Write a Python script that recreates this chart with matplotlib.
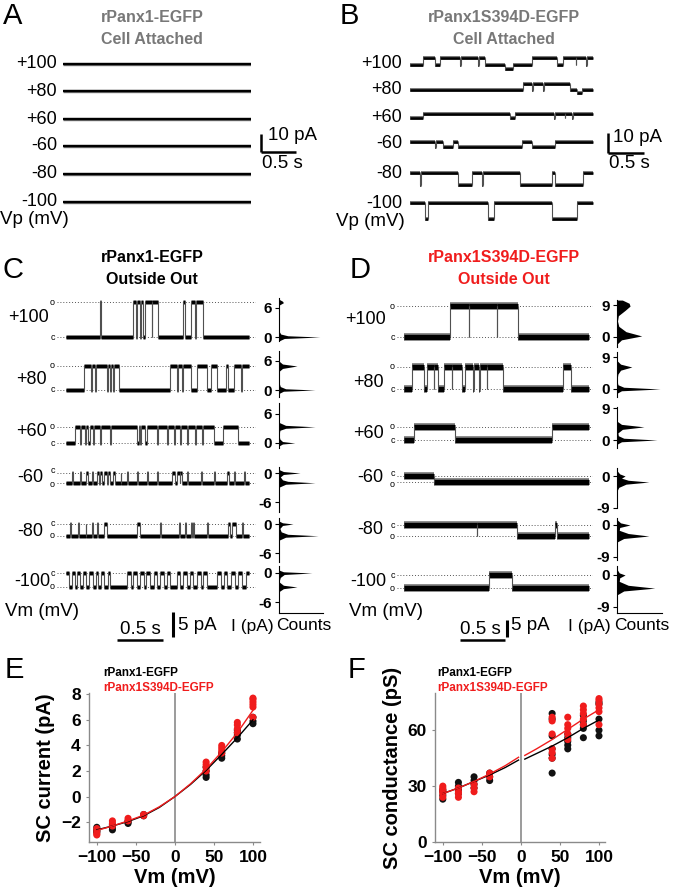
import matplotlib
matplotlib.use("Agg")
import matplotlib.pyplot as plt

plt.rcParams['font.family'] = ['Liberation Sans', 'DejaVu Sans']

# ---- DATA ----
volts = ['+100', '+80', '+60', '-60', '-80', '-100']

# A: cell attached, rPanx1-EGFP -> no openings, flat traces (pA)
a_level = [0, 0, 0, 0, 0, 0]
a_dur = 2.69

# B: cell attached, S394D. steps = (start time s, state)
b_p100 = [(0, 'c'), (0.18, 'o'), (0.35, 'c'), (0.42, 'o'), (0.70, 'c'), (0.71, 'o'), (0.95, 'c'),
          (0.96, 'o'), (1.04, 'c'), (1.32, 'L'), (1.43, 'c'), (1.69, 'o'), (2.04, 'c'), (2.13, 'o'),
          (2.30, 'c'), (2.31, 'o'), (2.45, 'c'), (2.46, 'o')]
b_p80 = [(0, 'c'), (1.57, 'o'), (1.70, 'c'), (1.71, 'o'), (1.85, 'c'), (1.86, 'o'), (2.22, 'c'),
         (2.32, 'L'), (2.39, 'c')]
b_p60 = [(0, 'c'), (0.18, 'o'), (1.39, 'c'), (1.46, 'o'), (2.0, 'c'), (2.01, 'o'), (2.15, 'c'),
         (2.16, 'o'), (2.25, 'c'), (2.26, 'o')]
b_m60 = [(0, 'c'), (0.35, 'o'), (0.36, 'c'), (0.46, 'o'), (0.60, 'c'), (0.67, 'o'), (1.56, 'c'),
         (1.69, 'o'), (2.01, 'c')]
b_m80 = [(0, 'c'), (0.14, 'o'), (0.15, 'c'), (0.67, 'o'), (0.86, 'c'), (1.0, 'o'), (1.01, 'c'),
         (1.53, 'o'), (1.97, 'c'), (2.01, 'o'), (2.40, 'c')]
b_m100 = [(0, 'c'), (0.21, 'o'), (0.25, 'c'), (1.08, 'o'), (1.17, 'c'), (1.97, 'o'), (2.32, 'c')]
b_steps = [b_p100, b_p80, b_p60, b_m60, b_m80, b_m100]
b_open = [3.7, 3.2, 2.1, -2.6, -6.3, -8.4]
b_low = [-2.1, -1.6, 0, 0, 0, 0]
b_dur = 2.54

# C: outside out, rPanx1-EGFP
c_p100 = [(0, 'c'), (0.37, 'o'), (0.38, 'c'), (0.73, 'o'), (0.76, 'c'), (0.765, 'o'), (0.80, 'c'),
          (0.81, 'o'), (0.83, 'c'), (0.86, 'o'), (0.93, 'c'), (0.935, 'o'), (1.0, 'c'), (1.27, 'o'),
          (1.285, 'c'), (1.35, 'o'), (1.40, 'c'), (1.41, 'o'), (1.49, 'c')]
c_p80 = [(0, 'c'), (0.19, 'o'), (0.27, 'c'), (0.28, 'o'), (0.31, 'c'), (0.32, 'o'), (0.44, 'c'),
         (0.45, 'o'), (0.48, 'c'), (0.49, 'o'), (0.51, 'c'), (0.52, 'o'), (0.57, 'c'), (1.13, 'o'),
         (1.20, 'c'), (1.21, 'o'), (1.26, 'c'), (1.27, 'o'), (1.35, 'c'), (1.42, 'o'), (1.53, 'c'),
         (1.57, 'o'), (1.64, 'c'), (1.73, 'o'), (1.76, 'c'), (1.82, 'o'), (1.90, 'c'), (1.91, 'o')]
c_p60 = [(0, 'c'), (0.1, 'o'), (0.15, 'c'), (0.16, 'o'), (0.2, 'c'), (0.21, 'o'), (0.24, 'c'),
         (0.26, 'o'), (0.29, 'c'), (0.30, 'o'), (0.37, 'c'), (0.38, 'o'), (0.48, 'c'), (0.49, 'o'),
         (0.77, 'c'), (0.785, 'o'), (0.80, 'c'), (0.81, 'o'), (0.86, 'c'), (0.88, 'o'), (0.99, 'c'),
         (1.0, 'o'), (1.09, 'c'), (1.10, 'o'), (1.17, 'c'), (1.18, 'o'), (1.24, 'c'), (1.25, 'o'),
         (1.31, 'c'), (1.32, 'o'), (1.40, 'c'), (1.41, 'o'), (1.47, 'c'), (1.48, 'o'), (1.60, 'c'),
         (1.70, 'o'), (1.86, 'c')]
c_m60 = [(0, 'o'), (0.06, 'c'), (0.07, 'o'), (0.15, 'c'), (0.165, 'o'), (0.22, 'c'), (0.235, 'o'),
         (0.28, 'c'), (0.29, 'o'), (0.33, 'c'), (0.36, 'o'), (0.37, 'c'), (0.39, 'o'), (0.41, 'c'),
         (0.44, 'o'), (0.45, 'c'), (0.48, 'o'), (0.51, 'c'), (0.53, 'o'), (0.59, 'c'), (0.60, 'o'),
         (0.66, 'c'), (0.675, 'o'), (0.77, 'c'), (0.78, 'o'), (0.88, 'c'), (0.89, 'o'), (0.99, 'c'),
         (1.0, 'o'), (1.15, 'c'), (1.18, 'o'), (1.20, 'c'), (1.23, 'o'), (1.24, 'c'), (1.26, 'o'),
         (1.31, 'c'), (1.32, 'o'), (1.46, 'c'), (1.47, 'o'), (1.60, 'c'), (1.61, 'o'), (1.75, 'c'),
         (1.765, 'o'), (1.82, 'c'), (1.83, 'o'), (1.93, 'c'), (1.94, 'o')]
c_m80 = [(0, 'o'), (0.04, 'c'), (0.05, 'o'), (0.13, 'c'), (0.14, 'o'), (0.21, 'c'), (0.22, 'o'),
         (0.28, 'c'), (0.29, 'o'), (0.33, 'c'), (0.34, 'o'), (0.41, 'c'), (0.44, 'o'), (0.77, 'c'),
         (0.80, 'o'), (1.02, 'c'), (1.03, 'o'), (1.22, 'c'), (1.23, 'o'), (1.29, 'c'), (1.30, 'o'),
         (1.35, 'c'), (1.36, 'o'), (1.38, 'c'), (1.39, 'o'), (1.53, 'c'), (1.54, 'o'), (1.76, 'c'),
         (1.78, 'o'), (1.80, 'c'), (1.84, 'o'), (1.91, 'c'), (1.92, 'o')]
c_m100 = [(0, 'c'), (0.03, 'o'), (0.06, 'c'), (0.09, 'o'), (0.12, 'c'), (0.15, 'o'), (0.18, 'c'),
          (0.22, 'o'), (0.25, 'c'), (0.29, 'o'), (0.32, 'c'), (0.35, 'o'), (0.38, 'c'), (0.41, 'o'),
          (0.45, 'c'), (0.47, 'o'), (0.66, 'c'), (0.70, 'o'), (0.73, 'c'), (0.77, 'o'), (0.80, 'c'),
          (0.84, 'o'), (0.87, 'c'), (0.91, 'o'), (0.95, 'c'), (0.99, 'o'), (1.02, 'c'), (1.06, 'o'),
          (1.09, 'c'), (1.13, 'o'), (1.20, 'c'), (1.24, 'o'), (1.27, 'c'), (1.31, 'o'), (1.34, 'c'),
          (1.38, 'o'), (1.42, 'c'), (1.46, 'o'), (1.49, 'c'), (1.53, 'o'), (1.64, 'c'), (1.68, 'o'),
          (1.71, 'c'), (1.75, 'o'), (1.79, 'c'), (1.83, 'o'), (1.87, 'c'), (1.91, 'o'), (1.95, 'c')]
c_steps = [c_p100, c_p80, c_p60, c_m60, c_m80, c_m100]
c_open = [7.1, 4.9, 3.3, -2.0, -2.4, -2.85]
c_dur = 1.98
c_ticks = [[0, 6], [0, 6], [0, 6], [0, -6], [0, -6], [0, -6]]
# amplitude histograms: current (pA) and relative counts
c_hist_I = [[-0.8, -0.3, 0.0, 0.25, 0.6, 1.2, 6.5, 7.0, 7.3, 7.7],
            [-0.7, -0.25, 0.0, 0.25, 0.7, 1.5, 3.8, 4.4, 4.9, 5.3, 5.9],
            [-0.6, -0.2, 0.0, 0.3, 0.8, 1.6, 2.6, 3.0, 3.3, 3.6, 4.2],
            [0.7, 0.3, 0.0, -0.3, -0.8, -1.4, -1.7, -2.0, -2.3, -2.9],
            [0.6, 0.25, 0.0, -0.3, -0.9, -1.6, -2.1, -2.4, -2.7, -3.3],
            [0.6, 0.25, 0.0, -0.3, -0.9, -1.8, -2.5, -2.85, -3.2, -3.8]]
c_hist_n = [[0.0, 0.12, 0.93, 0.2, 0.04, 0.0, 0.0, 0.1, 0.08, 0.0],
            [0.0, 0.1, 0.82, 0.15, 0.03, 0.0, 0.0, 0.08, 0.41, 0.08, 0.0],
            [0.0, 0.08, 0.36, 0.08, 0.02, 0.0, 0.02, 0.15, 0.82, 0.15, 0.0],
            [0.0, 0.1, 0.48, 0.1, 0.03, 0.08, 0.2, 0.82, 0.15, 0.0],
            [0.0, 0.08, 0.32, 0.08, 0.02, 0.05, 0.2, 0.89, 0.15, 0.0],
            [0.0, 0.1, 0.75, 0.12, 0.03, 0.0, 0.1, 0.41, 0.1, 0.0]]

# D: outside out, rPanx1S394D-EGFP
d_p100 = [(0, 'c'), (0.51, 'o'), (0.72, 'c'), (0.725, 'o'), (1.03, 'c'), (1.035, 'o'), (1.27, 'c')]
d_p80 = [(0, 'c'), (0.085, 'o'), (0.215, 'c'), (0.25, 'o'), (0.33, 'c'), (0.335, 'o'), (0.38, 'c'),
         (0.44, 'o'), (0.53, 'c'), (0.535, 'o'), (0.64, 'c'), (0.68, 'o'), (0.77, 'c'), (0.775, 'o'),
         (0.83, 'c'), (0.84, 'o'), (0.92, 'c'), (0.925, 'o'), (1.10, 'c'), (1.77, 'o'), (1.86, 'c')]
d_p60 = [(0, 'c'), (0.11, 'o'), (0.57, 'c'), (1.64, 'o')]
d_m60 = [(0, 'c'), (0.33, 'o')]
d_m80 = [(0, 'c'), (0.81, 'o'), (0.815, 'c'), (1.25, 'o'), (1.68, 'c'), (1.70, 'o')]
d_m100 = [(0, 'o'), (0.94, 'c'), (1.20, 'o')]
d_steps = [d_p100, d_p80, d_p60, d_m60, d_m80, d_m100]
d_open = [8.7, 6.2, 3.7, -1.7, -3.1, -3.7]
d_dur = 2.05
d_ticks = [[0, 9], [0, 9], [0, 9], [0, -9], [0, -9], [0, -9]]
d_hist_I = [[10.4, 9.5, 8.7, 7.5, 6.0, 4.5, 3.0, 1.5, 0.3, -0.8, -2.0],
            [8.0, 7.0, 6.2, 5.3, 4.2, 2.5, 1.2, 0.5, 0.0, -0.5, -1.2],
            [5.3, 4.4, 3.7, 3.0, 2.0, 1.2, 0.5, 0.0, -0.5, -1.2],
            [1.5, 0.6, 0.0, -0.6, -1.2, -1.7, -2.3, -3.2, -4.2],
            [1.5, 0.6, 0.0, -0.7, -1.5, -2.4, -3.1, -3.8, -4.8],
            [1.6, 0.6, 0.0, -0.8, -1.8, -2.9, -3.7, -4.5, -5.6]]
d_hist_n = [[0.12, 0.27, 0.29, 0.18, 0.03, 0.01, 0.04, 0.2, 0.55, 0.1, 0.0],
            [0.0, 0.08, 0.33, 0.08, 0.02, 0.0, 0.02, 0.15, 0.96, 0.1, 0.0],
            [0.0, 0.1, 0.6, 0.12, 0.02, 0.03, 0.15, 0.89, 0.1, 0.0],
            [0.0, 0.06, 0.18, 0.1, 0.25, 0.71, 0.2, 0.04, 0.0],
            [0.0, 0.08, 0.29, 0.06, 0.05, 0.25, 0.71, 0.15, 0.0],
            [0.0, 0.05, 0.18, 0.06, 0.05, 0.25, 0.84, 0.15, 0.0]]

# E: single channel current (pA) vs Vm
e_black = {-100: [-2.4, -2.6, -2.7, -2.8], -80: [-2.2, -2.4, -2.6], -60: [-1.9, -2.0, -2.1],
           -40: [-1.4, -1.5], 40: [1.5, 1.7, 2.0, 2.3], 60: [3.0, 3.2, 3.4],
           80: [4.5, 4.8, 5.0, 5.2], 100: [5.7, 5.9, 6.2]}
e_red = {-100: [-2.5, -2.7, -2.9, -3.0], -80: [-1.9, -2.1, -2.3], -60: [-1.7, -1.9],
         -40: [-1.4, -1.5], 40: [2.0, 2.3, 2.5, 2.7], 60: [3.4, 3.6, 3.8, 4.0],
         80: [5.0, 5.3, 5.6, 5.8], 100: [6.2, 7.0, 7.2, 7.4, 7.6, 7.7]}
fit_v = [-100, -80, -60, -40, -20, 0, 20, 40, 60, 80, 100]
e_fit_black = [-2.6, -2.3, -1.95, -1.5, -0.85, 0, 0.95, 2.05, 3.3, 4.6, 6.0]
e_fit_red = [-2.65, -2.3, -1.9, -1.45, -0.8, 0, 1.0, 2.15, 3.5, 5.0, 6.75]

# F: single channel conductance (pS) vs Vm
f_black = {-100: [23, 25, 27, 28], -80: [26, 28, 30, 32], -60: [29, 31, 33, 35], -40: [33, 35, 37],
           40: [37, 45, 47, 50, 57, 66, 69], 60: [50, 52, 54, 56, 58], 80: [56, 61, 63, 65, 68],
           100: [57, 60, 66, 74, 75]}
f_red = {-100: [24, 26, 27, 28, 29, 30], -80: [24, 26, 27, 29], -60: [27, 29, 31], -40: [35, 37],
         40: [45, 48, 50, 58, 65, 67], 60: [55, 58, 61, 63, 67], 80: [63, 66, 69, 71, 73],
         100: [63, 70, 72, 74, 76, 77]}
f_fit_vneg = [-100, -80, -60, -40, -20, -3]
f_fit_vpos = [5, 20, 40, 60, 80, 100]
f_fit_black_neg = [26, 29, 32.5, 36, 40, 44]
f_fit_black_pos = [44.5, 47.5, 51.5, 56, 61, 65.5]
f_fit_red_neg = [26, 29, 32.5, 36.5, 41, 45.5]
f_fit_red_pos = [46.5, 50, 55, 60.5, 66, 71]

RED = '#f01c1c'
GREY = '#787878'

# ---- FIGURE ----
W, H = 677, 893
fig = plt.figure(figsize=(W / 100, H / 100), dpi=100)


def box(x0, y0, x1, y1):
    ax = fig.add_axes([x0 / W, 1 - y1 / H, (x1 - x0) / W, (y1 - y0) / H])
    ax.patch.set_alpha(0)
    return ax


def txt(x, y, s, **kw):
    kw.setdefault('va', 'center')
    fig.text(x / W, 1 - y / H, s, **kw)


def trace(ax, steps, t_end, lv, lw):
    t = [s[0] for s in steps] + [t_end]
    y = [lv[s[1]] for s in steps]
    # thick dark plateaus (noise band), thin grey transitions
    ax.hlines(y, t[:-1], t[1:], color='#6a6a6a', lw=lw * 1.5)
    ax.hlines(y, t[:-1], t[1:], color='black', lw=lw)
    ax.vlines(t[1:-1], y[:-1], y[1:], color='#505050', lw=0.8)


# panel letters and titles
for s, x, y in [('A', 3, 16), ('B', 340, 16), ('C', 3, 270), ('D', 350, 270), ('E', 5, 670), ('F', 348, 670)]:
    txt(x, y, s, fontsize=21)
txt(152, 17, 'rPanx1-EGFP', ha='center', fontsize=11.5, weight='bold', color=GREY)
txt(152, 40, 'Cell Attached', ha='center', fontsize=11.5, weight='bold', color=GREY)
txt(504, 17, 'rPanx1S394D-EGFP', ha='center', fontsize=11.5, weight='bold', color=GREY)
txt(504, 40, 'Cell Attached', ha='center', fontsize=11.5, weight='bold', color=GREY)
txt(152, 258, 'rPanx1-EGFP', ha='center', fontsize=11.5, weight='bold')
txt(152, 280, 'Outside Out', ha='center', fontsize=11.5, weight='bold')
txt(504, 258, 'rPanx1S394D-EGFP', ha='center', fontsize=11.5, weight='bold', color=RED)
txt(504, 280, 'Outside Out', ha='center', fontsize=11.5, weight='bold', color=RED)

# ---- A ----
a_rows_y = [64, 91, 119, 146, 174, 202]
ka = 1.7
for i, yc in enumerate(a_rows_y):
    ax = box(63, yc - 12, 251, yc + 12)
    ax.set_xlim(0, a_dur)
    ax.set_ylim(-12 / ka, 12 / ka)
    trace(ax, [(0, 'c')], a_dur, {'c': a_level[i]}, 1.6)
    ax.axis('off')
    txt(57, yc, volts[i], ha='right', fontsize=13)
    if volts[i] == '-60':
        ax.plot([2.84, 2.84], [7.0, -3.4], color='black', lw=1.8, clip_on=False,
                solid_capstyle='butt')
        ax.plot([2.84, 3.34], [-3.4, -3.4], color='black', lw=1.8, clip_on=False,
                solid_capstyle='butt')
txt(0, 220, 'Vp (mV)', ha='left', fontsize=13.5)
txt(268, 136, '10 pA', ha='left', fontsize=13.5)
txt(262, 164, '0.5 s', ha='left', fontsize=13.5)

# ---- B ----
b_base = [65, 90, 118, 142, 173, 203]
b_lab_y = [63, 90, 118, 143, 173, 204]
kb = 1.9
for i, yb in enumerate(b_base):
    ax = box(410, yb - 18, 594, yb + 18)
    ax.set_xlim(0, 2.556)
    ax.set_ylim(-18 / kb, 18 / kb)
    trace(ax, b_steps[i], b_dur, {'c': 0, 'o': b_open[i], 'L': b_low[i]}, 1.8)
    ax.axis('off')
    txt(402, b_lab_y[i], volts[i], ha='right', fontsize=13)
    if volts[i] == '-60':
        ax.plot([2.75, 2.75], [4.7, -5.8], color='black', lw=1.8, clip_on=False,
                solid_capstyle='butt')
        ax.plot([2.75, 3.25], [-5.8, -5.8], color='black', lw=1.8, clip_on=False,
                solid_capstyle='butt')
txt(336, 221, 'Vp (mV)', ha='left', fontsize=13.5)
txt(613, 137, '10 pA', ha='left', fontsize=13.5)
txt(609, 163, '0.5 s', ha='left', fontsize=13.5)


# ---- C and D ----
def panel(steps, opens, dur, hist_I, hist_n, ticks, rows, k, tx, xlim, hx, lab, lab_y, lw, bar):
    for i in range(6):
        z, lo, hi = rows[i]
        y0, y1 = z - hi * k, z - lo * k
        ax = box(tx[0], y0, tx[1], y1)
        ax.set_xlim(*xlim)
        ax.set_ylim(lo, hi)
        for lv in (0, opens[i]):
            ax.axhline(lv, color='#555555', ls=(0, (1, 2)), lw=0.7)
        trace(ax, steps[i], dur, {'c': 0, 'o': opens[i]}, lw)
        ax.axis('off')
        # 'o' / 'c' markers, nudged apart when the two levels are close
        close = abs(opens[i]) * k < 10
        for lv, s in ((0, 'c'), (opens[i], 'o')):
            dy = 0
            if close:
                dy = 1.5 if lv == max(0, opens[i]) else -1.5
            ax.annotate(s, (-0.01, lv), xycoords=ax.get_yaxis_transform(), xytext=(0, dy),
                        textcoords='offset points', ha='right', va='center', fontsize=6.5)
        txt(lab[i], lab_y[i], volts[i], ha='right', fontsize=13)
        if i == 5:
            t0, tb, yb, vb = bar
            ax.plot([t0, t0 + 0.5], [yb, yb], color='black', lw=1.8, clip_on=False, solid_capstyle='butt')
            ax.plot([tb, tb], [vb, vb + 5], color='black', lw=2.2, clip_on=False, solid_capstyle='butt')

        hax = box(hx[0], y0, hx[1], y1)
        hax.fill_betweenx(hist_I[i], 0, hist_n[i], color='black', lw=0)
        hax.set_xlim(0, 1)
        hax.set_ylim(lo, hi)
        for sp in ('top', 'right'):
            hax.spines[sp].set_visible(False)
        hax.spines['bottom'].set_visible(i == 5)
        hax.spines['left'].set_linewidth(0.8)
        hax.spines['bottom'].set_linewidth(0.8)
        hax.set_xticks([])
        hax.set_yticks(ticks[i])
        hax.set_yticklabels([str(t) for t in ticks[i]], fontsize=11, weight='bold')
        hax.tick_params(axis='y', length=3, width=0.8, pad=2)


c_rows = [(337, -0.8, 8.0), (390, -1.4, 8.0), (443, -1.0, 8.2),
          (473, -8.0, 1.2), (524, -7.8, 1.2), (573, -8.2, 1.4)]
panel(c_steps, c_open, c_dur, c_hist_I, c_hist_n, c_ticks, c_rows, 4.9, (57, 256), (-0.1, 2.06),
      (279, 323), [49, 47, 47, 43, 43, 50], [318, 380, 432, 477, 532, 582], 2.2,
      (0.55, 1.16, -13.7, -13.0))

d_rows = [(337, -2.8, 10.4), (389, -2.3, 10.4), (440, -2.3, 9.3),
          (476, -9.0, 2.3), (525, -9.9, 2.0), (575, -10.7, 2.5)]
panel(d_steps, d_open, d_dur, d_hist_I, d_hist_n, d_ticks, d_rows, 3.55, (397, 593), (-0.08, 2.1),
      (617, 662), [386, 384, 384, 383, 383, 386], [320, 382, 434, 478, 530, 582], 3.6,
      (0.62, 1.14, -18.3, -17.6))

txt(5, 611, 'Vm (mV)', ha='left', fontsize=13.5)
txt(349, 611, 'Vm (mV)', ha='left', fontsize=13.5)
txt(140, 629, '0.5 s', ha='center', fontsize=13.5)
txt(178, 626, '5 pA', ha='left', fontsize=13.5)
txt(252, 626, 'I (pA)', ha='center', fontsize=12.5)
txt(304, 626, 'Counts', ha='center', fontsize=12.5)
txt(480, 629, '0.5 s', ha='center', fontsize=13.5)
txt(511, 626, '5 pA', ha='left', fontsize=13.5)
txt(589, 626, 'I (pA)', ha='center', fontsize=12.5)
txt(642, 626, 'Counts', ha='center', fontsize=12.5)


# ---- E and F ----
def iv_axes(ax, xlim, ylim, yticks, ylabel):
    ax.set_xlim(*xlim)
    ax.set_ylim(*ylim)
    ax.axvline(0, color='#8a8a8a', lw=1.2, zorder=0)
    for sp in ('top', 'right'):
        ax.spines[sp].set_visible(False)
    for sp in ('left', 'bottom'):
        ax.spines[sp].set_color('#8a8a8a')
        ax.spines[sp].set_linewidth(1.0)
    ax.set_xticks([-100, -50, 0, 50, 100])
    ax.set_yticks(yticks)
    ax.tick_params(length=2, color='#8a8a8a', pad=4, labelsize=12.5)
    for lab in ax.get_xticklabels() + ax.get_yticklabels():
        lab.set_fontweight('bold')
    ax.set_xlabel('Vm (mV)', fontsize=14.5, weight='bold', labelpad=2)
    ax.set_ylabel(ylabel, fontsize=14.5, weight='bold', labelpad=4)


def dots(ax, d, color):
    for v, vals in d.items():
        ax.scatter([v] * len(vals), vals, s=26, color=color, edgecolors='none', zorder=3)


axE = box(89, 693, 260, 842)
iv_axes(axE, (-110, 109), (-3.55, 8.1), [-2, 0, 2, 4, 6, 8], 'SC current (pA)')
dots(axE, e_black, '#111111')
dots(axE, e_red, RED)
axE.plot(fit_v, e_fit_black, color='black', lw=1, zorder=4)
axE.plot(fit_v, e_fit_red, color=RED, lw=1, zorder=4)

axF = box(435, 693, 605, 842)
iv_axes(axF, (-110, 107.7), (0, 80), [0, 30, 60], 'SC conductance (pS)')
dots(axF, f_black, '#111111')
dots(axF, f_red, RED)
axF.plot(f_fit_vneg, f_fit_black_neg, color='black', lw=1, zorder=4)
axF.plot(f_fit_vpos, f_fit_black_pos, color='black', lw=1, zorder=4)
axF.plot(f_fit_vneg, f_fit_red_neg, color=RED, lw=1, zorder=4)
axF.plot(f_fit_vpos, f_fit_red_pos, color=RED, lw=1, zorder=4)

for x in (103, 437):
    txt(x, 673, 'rPanx1-EGFP', ha='left', fontsize=8.5, weight='bold')
    txt(x, 688, 'rPanx1S394D-EGFP', ha='left', fontsize=8.5, weight='bold', color=RED)

fig.savefig('out.png', dpi=100)
